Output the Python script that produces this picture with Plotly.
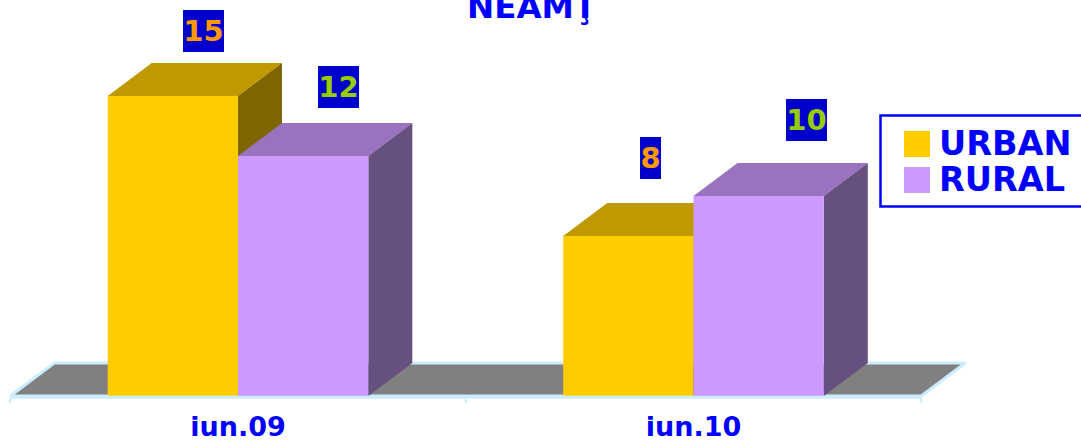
import plotly.graph_objects as go

categories = ["iun.09", "iun.10"]
urban = [15, 8]
rural = [12, 10]
title_text = "NEAMŢ"
font = "DejaVu Sans"

W, H = 1081, 441
ZERO_PX = 396        # pixel row of value 0
PLOT_H = 405         # pixel row where the plot area ends
UNIT_PX = 455.5      # width of a category
CAT0_PX = 238        # centre of the first category
VAL_PX = 20          # pixels per value unit
BAR = 130.3 / UNIT_PX
DX = 44 / UNIT_PX
DY = 33 / VAL_PX
x_range = [-CAT0_PX / UNIT_PX, (W - CAT0_PX) / UNIT_PX]
y_range = [-(PLOT_H - ZERO_PX) / VAL_PX, ZERO_PX / VAL_PX]
n = len(categories)

URBAN_C = dict(front="#FFCC00", top="#C09900", side="#806600")
RURAL_C = dict(front="#CC99FF", top="#9973BF", side="#66507F")
FLOOR = "#808080"
EDGE = "#CCECFF"
BLUE = "#0000FF"


def py(px):
    """paper y from a pixel row counted from the top of the page"""
    return 1 - px / PLOT_H


def pxx(px):
    return px / W


fig = go.Figure()


def poly(xs, ys, color, z, line=None, lw=0):
    fig.add_trace(go.Scatter(x=xs, y=ys, mode="lines", fill="toself", fillcolor=color,
                             line=dict(color=line or color, width=lw), hoverinfo="skip",
                             showlegend=False, zorder=z))


# floor
fl, fr = -0.5, n - 0.5
poly([fl, fr, fr + DX, fl + DX, fl], [0, 0, DY, DY, 0], FLOOR, 0, EDGE, 3)


def series(name, vals, offset, colors, z):
    tops_x, tops_y, side_x, side_y = [], [], [], []
    for i, v in enumerate(vals):
        a, b = i + offset, i + offset + BAR
        tops_x += [a, b, b + DX, a + DX, a, None]
        tops_y += [v, v, v + DY, v + DY, v, None]
        side_x += [b, b + DX, b + DX, b, b, None]
        side_y += [0, DY, v + DY, v, 0, None]
    poly(tops_x, tops_y, colors["top"], z)
    poly(side_x, side_y, colors["side"], z)
    fig.add_trace(go.Bar(x=list(range(n)), y=vals, width=BAR, offset=offset, name=name,
                         marker=dict(color=colors["front"], line=dict(width=0)),
                         showlegend=False, zorder=z + 1))


series("URBAN", urban, -BAR, URBAN_C, 1)
series("RURAL", rural, 0, RURAL_C, 3)

# front edge of the floor just under the bars, with its ticks
edge_y = -1.2 / VAL_PX
tick_y = -7 / VAL_PX
fig.add_trace(go.Scatter(x=[fl, fr], y=[edge_y] * 2, mode="lines", line=dict(color=EDGE, width=3),
                         hoverinfo="skip", showlegend=False, zorder=5))
tx, ty = [], []
for t in (fl, 0.5, fr):
    tx += [t, t, None]
    ty += [edge_y, tick_y, None]
fig.add_trace(go.Scatter(x=tx, y=ty, mode="lines", line=dict(color=EDGE, width=2),
                         hoverinfo="skip", showlegend=False, zorder=5))

annotations = []
# label shifts in pixels from the top-centre of each bar
label_shifts = {"URBAN": [(30.5, 65), (22, 78)], "RURAL": [(35, 69), (47.5, 76)]}
for name, vals, off, col in (("URBAN", urban, -BAR / 2, "#FF9900"), ("RURAL", rural, BAR / 2, "#99CC00")):
    for i, v in enumerate(vals):
        sx, sy = label_shifts[name][i]
        txt = str(v)
        annotations.append(dict(x=i + off, y=v, xref="x", yref="y", text=txt, showarrow=False,
                                xshift=sx, yshift=sy, xanchor="center", yanchor="middle",
                                width=41 if len(txt) > 1 else 21, height=42, bgcolor="#0000CC",
                                borderpad=0, borderwidth=0,
                                font=dict(family=font, size=29, color=col, weight="bold")))

# legend text
for label, cy in (("URBAN", 143), ("RURAL", 179)):
    annotations.append(dict(x=pxx(937), y=py(cy), xref="paper", yref="paper",
                            text=label, showarrow=False, xanchor="left", yanchor="middle",
                            font=dict(family=font, size=33.5, color=BLUE, weight="bold")))

# title, cut by the top of the page
annotations.append(dict(x=pxx(531.5), y=py(7), xref="paper", yref="paper", text=title_text,
                        showarrow=False, xanchor="center", yanchor="middle",
                        font=dict(family=font, size=32.5, color=BLUE, weight="bold")))

shapes = [
    dict(type="rect", xref="paper", yref="paper", x0=pxx(880.5), x1=pxx(1095), y0=py(115.5), y1=py(206.5),
         line=dict(color=BLUE, width=2.5), fillcolor="white"),
    dict(type="rect", xref="paper", yref="paper", x0=pxx(904), x1=pxx(930), y0=py(131), y1=py(157),
         line=dict(width=0), fillcolor=URBAN_C["front"]),
    dict(type="rect", xref="paper", yref="paper", x0=pxx(904), x1=pxx(930), y0=py(167), y1=py(193),
         line=dict(width=0), fillcolor=RURAL_C["front"]),
]

fig.update_layout(
    width=W, height=H, margin=dict(l=0, r=0, t=0, b=H - PLOT_H, pad=0, autoexpand=False),
    paper_bgcolor="white", plot_bgcolor="white", showlegend=False,
    annotations=annotations, shapes=shapes,
    xaxis=dict(range=x_range, tickmode="array", tickvals=list(range(n)), ticktext=categories,
               showgrid=False, zeroline=False, showline=False, ticks="", ticklabelstandoff=3,
               tickfont=dict(family=font, size=27, color=BLUE, weight="bold")),
    yaxis=dict(range=y_range, visible=False),
)
fig.write_html("out.html", config=dict(displayModeBar=False),
               post_script="document.body.style.margin='0';document.body.style.overflow='hidden';")
